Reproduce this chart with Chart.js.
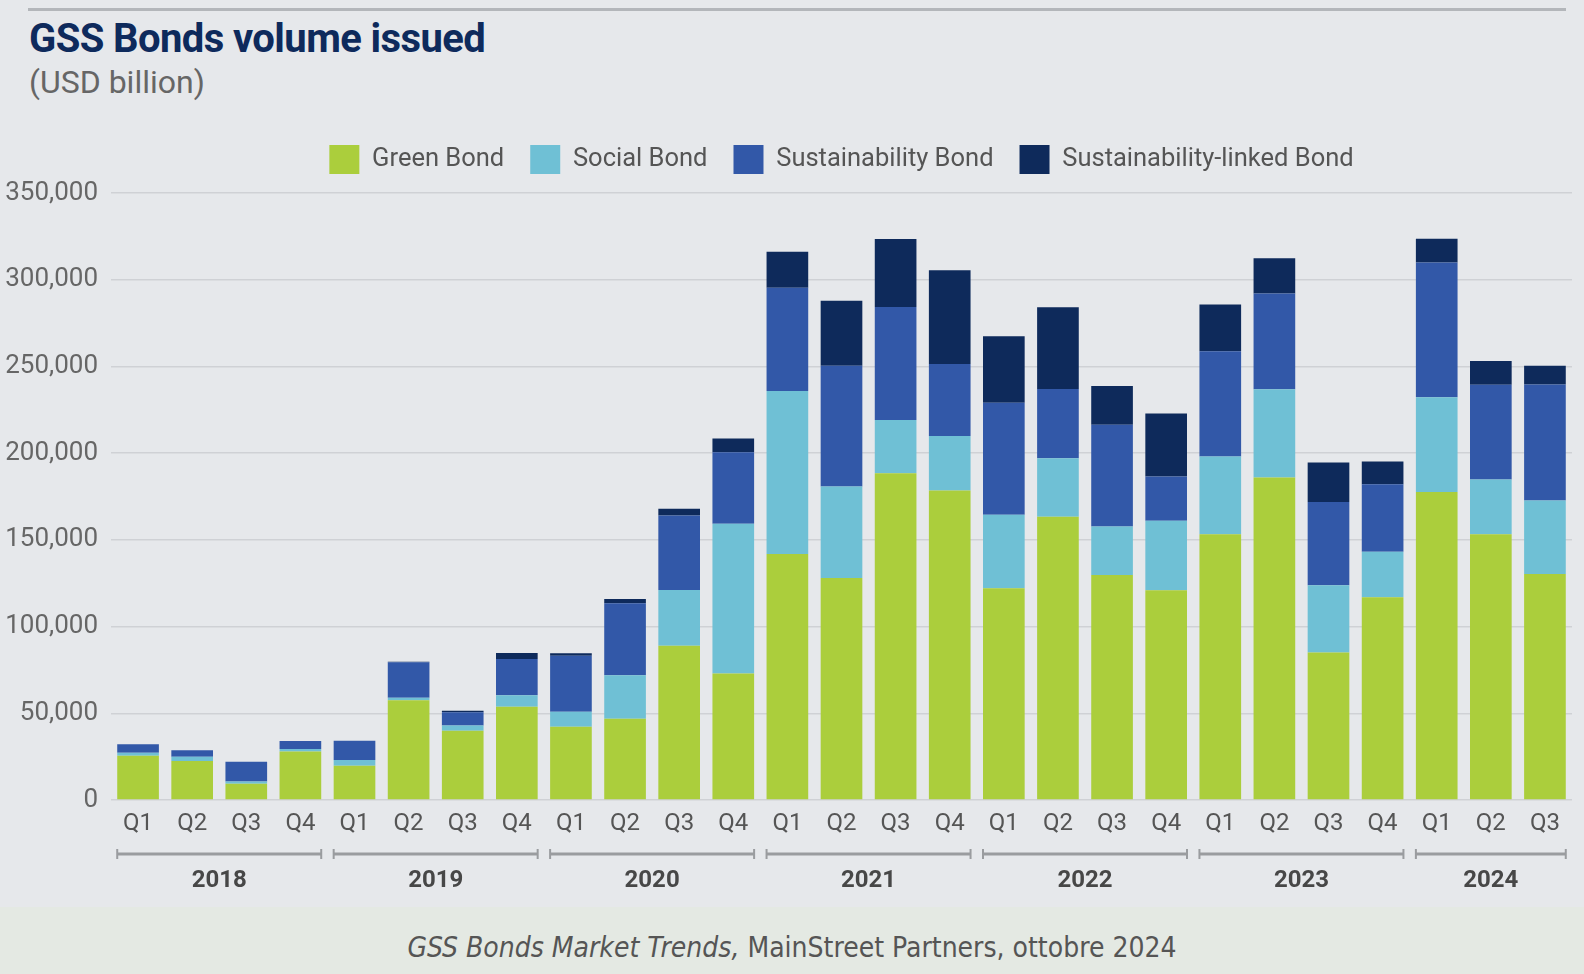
<!DOCTYPE html>
<html>
<head>
<meta charset="utf-8">
<script src="https://cdn.jsdelivr.net/npm/chart.js@4.4.1/dist/chart.umd.min.js"></script>
<style>
  html, body { margin: 0; padding: 0; }
  body { width: 1584px; height: 974px; background: #e6e8eb; position: relative; overflow: hidden; font-family: Roboto, "Noto Sans", sans-serif; }
  #topline { position: absolute; left: 28px; top: 8px; width: 1538px; height: 3px; background: #b3b6ba; }
  #title { position: absolute; left: 29px; top: 19px; font-size: 40px; line-height: 40px; font-weight: 700; color: #0e2a5c; letter-spacing: -0.6px; }
  #subtitle { position: absolute; left: 29px; top: 66px; font-size: 32px; line-height: 32px; color: #666; }
  #footer { position: absolute; left: 0; top: 907px; width: 1584px; height: 67px; background: #e4e9e3; }
  #source { position: absolute; left: 0; width: 1584px; top: 933px; text-align: center; font-family: "Liberation Sans Narrow", "DejaVu Sans Condensed", Roboto, sans-serif; font-stretch: condensed; font-size: 28px; line-height: 30px; color: #555; }
  #wrap { position: absolute; left: 0; top: 0; width: 1584px; height: 974px; }
</style>
</head>
<body>
<div id="topline"></div>
<div id="title">GSS Bonds volume issued</div>
<div id="subtitle">(USD billion)</div>
<div id="footer"></div>
<div id="source"><i>GSS Bonds Market Trends,</i> MainStreet Partners, ottobre 2024</div>
<div id="wrap"><canvas id="myChart" width="1584" height="974"></canvas></div>
<script>
// data
var quarters = ['Q1','Q2','Q3','Q4','Q1','Q2','Q3','Q4','Q1','Q2','Q3','Q4','Q1','Q2','Q3','Q4',
                'Q1','Q2','Q3','Q4','Q1','Q2','Q3','Q4','Q1','Q2','Q3'];
var years = ['2018','2019','2020','2021','2022','2023','2024'];
var quartersPerYear = [4, 4, 4, 4, 4, 4, 3];

var greenBond = [25500, 22500, 9400, 27900, 19800, 57500, 40000, 53800, 42300, 46900, 89000, 72900,
                 141900, 128000, 188400, 178400, 122100, 163400, 129700, 121000, 153300, 185900,
                 85100, 116900, 177600, 153300, 130300];
var socialBond = [1800, 2500, 1200, 1500, 3300, 1500, 2900, 6600, 8600, 25000, 32100, 86400,
                  93900, 52800, 30700, 31500, 42400, 33600, 28000, 40000, 44800, 51000,
                  38800, 26200, 54700, 31500, 42400];
var sustainabilityBond = [4800, 3700, 11500, 4600, 11100, 20400, 7700, 20900, 32300, 41500, 42900, 41200,
                          59600, 69600, 65200, 41500, 64500, 40000, 58700, 25600, 60700, 55200,
                          48000, 38900, 77700, 54600, 66900];
var slBond = [0, 0, 0, 0, 0, 300, 900, 3500, 1400, 2500, 4000, 7900,
              20800, 37500, 39200, 54100, 38400, 47100, 22300, 36200, 26900, 20300,
              22700, 13200, 13600, 13700, 10800];

var yTicks = [0, 50000, 100000, 150000, 200000, 250000, 300000, 350000];

// year brackets under the quarter labels
var yearBrackets = {
  id: 'yearBrackets',
  afterDraw: function (chart) {
    var ctx = chart.ctx;
    var x = chart.scales.x;
    var meta = chart.getDatasetMeta(0);
    var idx = 0;
    ctx.save();
    for (var i = 0; i < years.length; i++) {
      var first = idx, last = idx + quartersPerYear[i] - 1;
      var w = meta.data[first].width;
      var x0 = x.getPixelForValue(first) - w / 2;
      var x1 = x.getPixelForValue(last) + w / 2;
      var y = chart.chartArea.bottom + 54;
      ctx.strokeStyle = '#9a9c9f';
      ctx.lineWidth = 3;
      ctx.beginPath();
      ctx.moveTo(x0, y); ctx.lineTo(x1, y);
      ctx.stroke();
      ctx.lineWidth = 2;
      ctx.beginPath();
      ctx.moveTo(x0, y - 5); ctx.lineTo(x0, y + 5);
      ctx.moveTo(x1, y - 5); ctx.lineTo(x1, y + 5);
      ctx.stroke();
      ctx.fillStyle = '#474747';
      ctx.font = 'bold 24px Roboto';
      ctx.textAlign = 'center';
      ctx.textBaseline = 'middle';
      ctx.fillText(years[i], (x0 + x1) / 2, y + 27);
      idx += quartersPerYear[i];
    }
    ctx.restore();
  }
};

var ctx = document.getElementById('myChart').getContext('2d');
var chart = new Chart(ctx, {
  type: 'bar',
  data: {
    labels: quarters,
    datasets: [
      { label: 'Green Bond', data: greenBond, backgroundColor: '#abce3c' },
      { label: 'Social Bond', data: socialBond, backgroundColor: '#6fc0d5' },
      { label: 'Sustainability Bond', data: sustainabilityBond, backgroundColor: '#3258a8' },
      { label: 'Sustainability-linked Bond', data: slBond, backgroundColor: '#0e2a5b' }
    ]
  },
  options: {
    responsive: false,
    animation: false,
    layout: { padding: { top: 119, bottom: 74, left: 0, right: 12 } },
    datasets: { bar: { barPercentage: 0.77, categoryPercentage: 1, borderWidth: 0 } },
    plugins: {
      legend: {
        position: 'top',
        fullSize: false,
        labels: {
          boxWidth: 30,
          boxHeight: 29,
          padding: 26,
          color: '#555',
          font: { family: 'Roboto', size: 25.5 }
        }
      },
      tooltip: { enabled: false }
    },
    scales: {
      x: {
        stacked: true,
        grid: { display: false, drawTicks: false },
        border: { display: false },
        ticks: { color: '#555', font: { family: 'Roboto', size: 24 }, padding: 10, maxRotation: 0, autoSkip: false },
        afterFit: function (s) { s.height = 100; }
      },
      y: {
        stacked: true,
        min: 0,
        max: 355200,
        afterBuildTicks: function (s) { s.ticks = yTicks.map(function (v) { return { value: v }; }); },
        grid: { color: '#cfd1d5', lineWidth: 1.5, drawTicks: false },
        border: { display: false },
        ticks: {
          color: '#666',
          font: { family: 'Roboto', size: 26 },
          padding: 13,
          callback: function (v) { return v.toLocaleString('en-US'); }
        },
        afterFit: function (s) { s.width = 111; }
      }
    }
  },
  plugins: [yearBrackets]
});
</script>
</body>
</html>
